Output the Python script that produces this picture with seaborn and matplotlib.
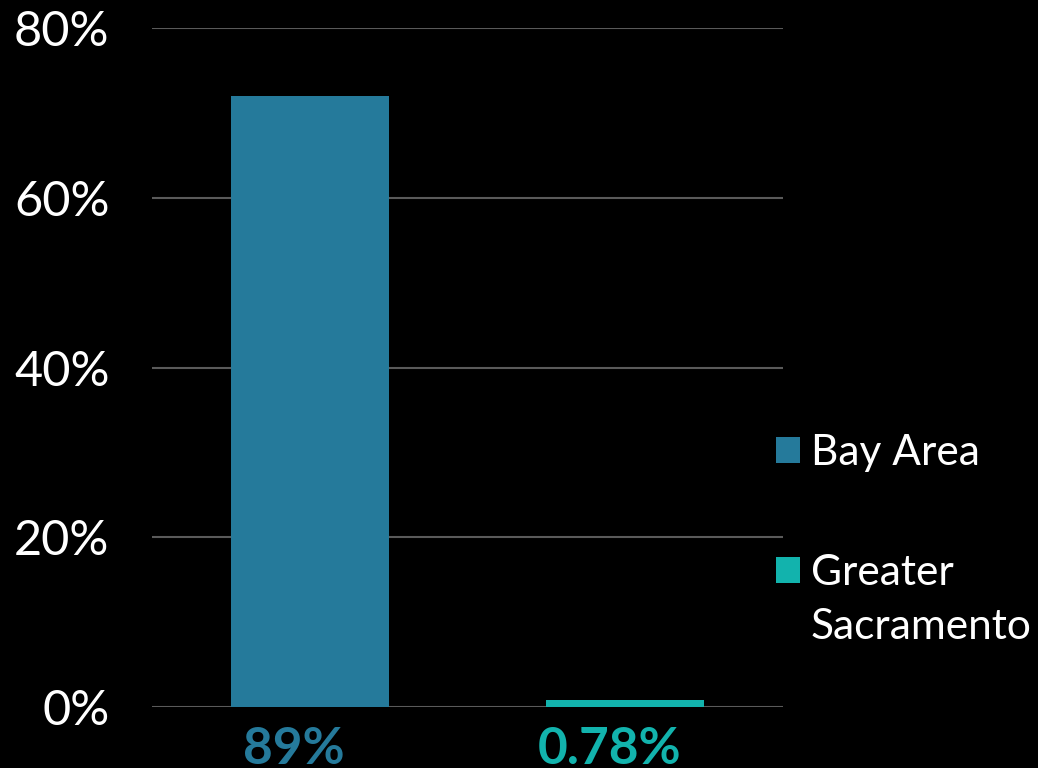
import pandas as pd
import matplotlib.pyplot as plt
import matplotlib.transforms as mtransforms
import seaborn as sns

regions = ["Bay Area", "Greater\nSacramento"]
shares = [72, 0.78]
bar_labels = ["89%", "0.78%"]
colors = ["#257A9B", "#12B3AD"]
yticks = [0, 20, 40, 60, 80]

df = pd.DataFrame({"region": regions, "share": shares})

sns.set_style("dark")
plt.rcParams['font.family'] = ['Lato', 'DejaVu Sans']

fig = plt.figure(figsize=(10.38, 7.68), dpi=100, facecolor='black')
ax = fig.add_axes([0.1464, 0.0794, 0.6079, 0.8841])
ax.set_facecolor('black')

sns.barplot(data=df, x="region", y="share", hue="region", palette=colors,
            width=0.5, saturation=1, linewidth=0, legend=True, ax=ax)

ax.set_ylim(0, 80)
ax.set_xlim(-0.5, 1.5)
ax.tick_params(axis='y', length=0, pad=30.5)
ax.tick_params(axis='x', length=0, pad=14)
ax.set_yticks(yticks)
ax.set_yticklabels([f"{t}%" for t in yticks], color='white', fontsize=35, fontweight='normal')
ax.set_xticks(range(len(bar_labels)))
ax.set_xticklabels(bar_labels, fontsize=37, fontweight='bold')
shift = mtransforms.ScaledTranslation(-0.16, 0, fig.dpi_scale_trans)
for lbl, c in zip(ax.get_xticklabels(), colors):
    lbl.set_color(c)
    lbl.set_transform(lbl.get_transform() + shift)
ax.grid(axis='y', color='#5a5a5a', linewidth=1.5)
ax.grid(axis='x', visible=False)
ax.set_axisbelow(True)
for s in ax.spines.values():
    s.set_visible(False)
ax.set_xlabel("")
ax.set_ylabel("")

# legend: first line of each name beside the swatch, the rest wraps underneath
first_lines = [r.split("\n")[0] for r in regions]
handles = ax.get_legend_handles_labels()[0]
leg = ax.legend(handles, first_lines, loc="center left", bbox_to_anchor=(0.7476, 0.332),
                bbox_transform=fig.transFigure, frameon=False, fontsize=30.5,
                handlelength=0.567, handleheight=0.567, handletextpad=0.26,
                labelspacing=1.92, borderpad=0, borderaxespad=0)
for t, h in zip(leg.get_texts(), leg.legend_handles):
    t.set_color('white')
    h.set_edgecolor('none')
for r, t in zip(regions, leg.get_texts()):
    rest = r.split("\n")[1:]
    if rest:
        ax.annotate("\n".join(rest), xy=(0, 0), xycoords=t, xytext=(0, -11.5),
                    textcoords='offset points', va='top', ha='left',
                    fontsize=30.5, color='white', annotation_clip=False, zorder=10)

fig.savefig("out.png", dpi=100, facecolor='black')
